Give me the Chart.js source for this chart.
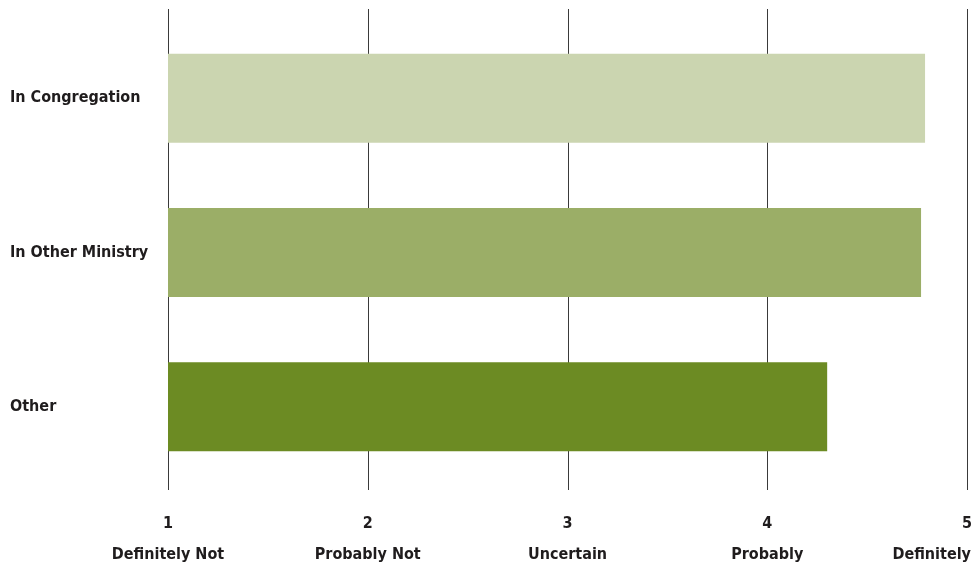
<!DOCTYPE html>
<html>
<head>
<meta charset="utf-8">
<script src="https://cdn.jsdelivr.net/npm/chart.js@4/dist/chart.umd.min.js"></script>
<style>
  html, body { margin: 0; padding: 0; background: #ffffff; }
  #wrap { width: 978px; height: 566px; position: relative; }
</style>
</head>
<body>
<div id="wrap"><canvas id="c" width="978" height="566"></canvas></div>
<script>
const categories = ['In Congregation', 'In Other Ministry', 'Other'];
const values = [4.79, 4.77, 4.30];
const barColors = ['#cbd5b0', '#9bae67', '#6c8b23'];
const tickNumbers = [1, 2, 3, 4, 5];
const tickNames = ['Definitely Not', 'Probably Not', 'Uncertain', 'Probably', 'Definitely'];

const FONT_FAMILY = '"Liberation Sans Narrow", "Arial Narrow", "DejaVu Sans Condensed", sans-serif';
const FONT_SIZE = 16;
const TEXT_COLOR = '#1f1c1d';

const gridPlugin = {
  id: 'extendedGrid',
  beforeDatasetsDraw(chart) {
    const ctx = chart.ctx;
    const xs = chart.scales.x;
    const area = chart.chartArea;
    ctx.save();
    ctx.strokeStyle = '#3a3a3a';
    ctx.lineWidth = 1;
    tickNumbers.forEach(v => {
      const px = Math.round(xs.getPixelForValue(v)) + 0.5;
      ctx.beginPath();
      ctx.moveTo(px, area.top - 12);
      ctx.lineTo(px, area.bottom + 6);
      ctx.stroke();
    });
    ctx.restore();
  },
  afterDraw(chart) {
    const ctx = chart.ctx;
    const xs = chart.scales.x;
    ctx.save();
    ctx.font = 'bold ' + FONT_SIZE + 'px ' + FONT_FAMILY;
    ctx.fillStyle = TEXT_COLOR;
    ctx.textBaseline = 'middle';
    ctx.textAlign = 'center';
    const rightLimit = chart.width - 7;
    tickNumbers.forEach((v, i) => {
      const px = xs.getPixelForValue(v);
      const name = tickNames[i];
      const w = ctx.measureText(name).width;
      let cx = px;
      if (cx + w / 2 > rightLimit) cx = rightLimit - w / 2;
      ctx.fillText(name, cx, 554.5);
    });
    ctx.restore();
  }
};

new Chart(document.getElementById('c'), {
  type: 'bar',
  data: {
    labels: categories,
    datasets: [{
      data: values,
      backgroundColor: barColors,
      borderWidth: 0,
      categoryPercentage: 1.0,
      barPercentage: 0.577
    }]
  },
  options: {
    indexAxis: 'y',
    responsive: false,
    animation: false,
    devicePixelRatio: 1,
    layout: { padding: { left: 10, right: 11, top: 21, bottom: 0 } },
    plugins: {
      legend: { display: false },
      tooltip: { enabled: false }
    },
    scales: {
      x: {
        type: 'linear',
        min: 1,
        max: 5,
        afterBuildTicks(scale) {
          scale.ticks = tickNumbers.map(v => ({ value: v }));
        },
        afterFit(scale) { scale.height = 82; },
        grid: {
          display: true,
          drawOnChartArea: false,
          drawTicks: true,
          tickLength: 30,
          color: 'rgba(0,0,0,0)'
        },
        border: { display: false },
        ticks: {
          padding: 0,
          color: TEXT_COLOR,
          font: { family: FONT_FAMILY, size: FONT_SIZE, weight: 'bold' },
          callback: (v) => String(v)
        }
      },
      y: {
        type: 'category',
        afterFit(scale) { scale.width = 158; },
        grid: { display: false },
        border: { display: false },
        ticks: {
          crossAlign: 'far',
          color: TEXT_COLOR,
          font: { family: FONT_FAMILY, size: FONT_SIZE, weight: 'bold' }
        }
      }
    }
  },
  plugins: [gridPlugin]
});
</script>
</body>
</html>
